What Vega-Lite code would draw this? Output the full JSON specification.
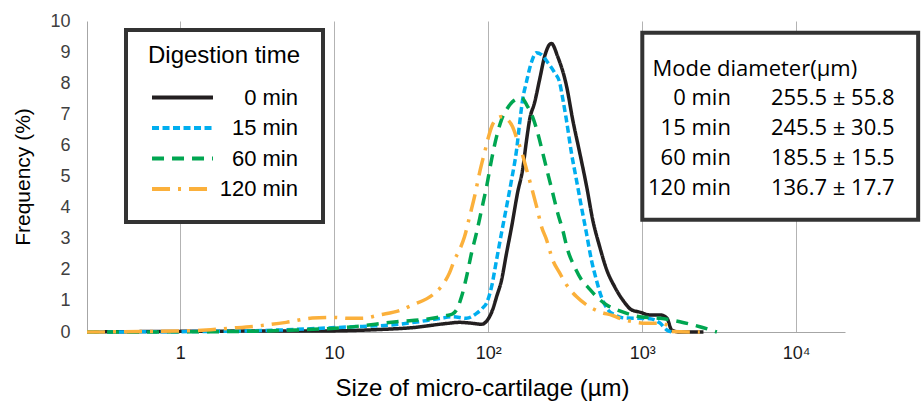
{
  "$schema": "https://vega.github.io/schema/vega-lite/v6.json",
  "autosize": {"type": "none"},
  "width": 758,
  "height": 311,
  "padding": {"left": 87, "top": 21, "right": 77, "bottom": 73},
  "background": "white",
  "config": {
    "view": {"stroke": null},
    "font": "Liberation Sans",
    "legend": {
      "orient": "none",
      "legendX": 39,
      "legendY": 9,
      "titleFontSize": 24,
      "titleFontWeight": "normal",
      "titleColor": "black",
      "titleFont": "Liberation Sans",
      "titlePadding": 9,
      "titleAnchor": "middle",
      "titleAlign": "center",
      "titleBaseline": "line-top",
      "titleLineHeight": 8,
      "labelFontSize": 22,
      "labelColor": "black",
      "labelFont": "Liberation Sans",
      "labelAlign": "right",
      "labelOffset": 103,
      "symbolType": "M-3,0H3",
      "symbolSize": 413,
      "symbolStrokeWidth": 4,
      "symbolOffset": 21,
      "rowPadding": 6.5,
      "padding": 22,
      "strokeColor": "#333333",
      "strokeWidth": 4,
      "fillColor": "white"
    }
  },
  "datasets": {
    "curves": [
      {"time": "0 min", "size": 0.2485, "freq": 0},
      {"time": "0 min", "size": 0.985, "freq": 0.02},
      {"time": "0 min", "size": 2.81, "freq": 0.03},
      {"time": "0 min", "size": 7.217, "freq": 0.03},
      {"time": "0 min", "size": 19.67, "freq": 0.08},
      {"time": "0 min", "size": 32.25, "freq": 0.14},
      {"time": "0 min", "size": 52.84, "freq": 0.27},
      {"time": "0 min", "size": 65.16, "freq": 0.31},
      {"time": "0 min", "size": 79.17, "freq": 0.28},
      {"time": "0 min", "size": 90.6, "freq": 0.25},
      {"time": "0 min", "size": 99.11, "freq": 0.39},
      {"time": "0 min", "size": 106.8, "freq": 0.71},
      {"time": "0 min", "size": 113.4, "freq": 1.13},
      {"time": "0 min", "size": 122.2, "freq": 1.67},
      {"time": "0 min", "size": 131.7, "freq": 2.54},
      {"time": "0 min", "size": 142.0, "freq": 3.38},
      {"time": "0 min", "size": 155.3, "freq": 4.48},
      {"time": "0 min", "size": 167.4, "freq": 5.22},
      {"time": "0 min", "size": 177.7, "freq": 6.18},
      {"time": "0 min", "size": 185.9, "freq": 6.83},
      {"time": "0 min", "size": 200.3, "freq": 7.38},
      {"time": "0 min", "size": 215.9, "freq": 8.12},
      {"time": "0 min", "size": 232.6, "freq": 8.86},
      {"time": "0 min", "size": 257.2, "freq": 9.28},
      {"time": "0 min", "size": 282.6, "freq": 8.86},
      {"time": "0 min", "size": 323.4, "freq": 7.89},
      {"time": "0 min", "size": 353.9, "freq": 6.83},
      {"time": "0 min", "size": 392.9, "freq": 5.77},
      {"time": "0 min", "size": 436.3, "freq": 4.67},
      {"time": "0 min", "size": 477.3, "freq": 3.61},
      {"time": "0 min", "size": 530.1, "freq": 2.74},
      {"time": "0 min", "size": 588.7, "freq": 2.0},
      {"time": "0 min", "size": 663.5, "freq": 1.45},
      {"time": "0 min", "size": 747.9, "freq": 1.03},
      {"time": "0 min", "size": 855.8, "freq": 0.71},
      {"time": "0 min", "size": 964.7, "freq": 0.64},
      {"time": "0 min", "size": 1121, "freq": 0.55},
      {"time": "0 min", "size": 1302, "freq": 0.55},
      {"time": "0 min", "size": 1445, "freq": 0.45},
      {"time": "0 min", "size": 1558, "freq": 0.06},
      {"time": "0 min", "size": 1756, "freq": 0},
      {"time": "0 min", "size": 2500, "freq": 0},

      {"time": "15 min", "size": 0.2485, "freq": 0},
      {"time": "15 min", "size": 1.329, "freq": 0.016},
      {"time": "15 min", "size": 4.402, "freq": 0.064},
      {"time": "15 min", "size": 12.0, "freq": 0.16},
      {"time": "15 min", "size": 25.37, "freq": 0.24},
      {"time": "15 min", "size": 48.31, "freq": 0.43},
      {"time": "15 min", "size": 58.67, "freq": 0.49},
      {"time": "15 min", "size": 72.36, "freq": 0.44},
      {"time": "15 min", "size": 84.05, "freq": 0.6},
      {"time": "15 min", "size": 91.97, "freq": 0.77},
      {"time": "15 min", "size": 97.63, "freq": 0.93},
      {"time": "15 min", "size": 105.2, "freq": 1.45},
      {"time": "15 min", "size": 113.4, "freq": 2.32},
      {"time": "15 min", "size": 122.2, "freq": 3.19},
      {"time": "15 min", "size": 131.7, "freq": 4.03},
      {"time": "15 min", "size": 142.0, "freq": 4.9},
      {"time": "15 min", "size": 153.0, "freq": 5.86},
      {"time": "15 min", "size": 160.0, "freq": 6.7},
      {"time": "15 min", "size": 167.4, "freq": 7.47},
      {"time": "15 min", "size": 176.9, "freq": 8.02},
      {"time": "15 min", "size": 190.7, "freq": 8.66},
      {"time": "15 min", "size": 205.5, "freq": 8.98},
      {"time": "15 min", "size": 221.4, "freq": 8.92},
      {"time": "15 min", "size": 244.4, "freq": 8.66},
      {"time": "15 min", "size": 270.2, "freq": 8.34},
      {"time": "15 min", "size": 291.2, "freq": 8.02},
      {"time": "15 min", "size": 305.9, "freq": 7.47},
      {"time": "15 min", "size": 321.9, "freq": 6.83},
      {"time": "15 min", "size": 347.0, "freq": 5.77},
      {"time": "15 min", "size": 374.0, "freq": 4.9},
      {"time": "15 min", "size": 403.0, "freq": 4.03},
      {"time": "15 min", "size": 434.3, "freq": 3.19},
      {"time": "15 min", "size": 468.1, "freq": 2.32},
      {"time": "15 min", "size": 504.6, "freq": 1.67},
      {"time": "15 min", "size": 543.8, "freq": 1.13},
      {"time": "15 min", "size": 600.3, "freq": 0.71},
      {"time": "15 min", "size": 663.5, "freq": 0.55},
      {"time": "15 min", "size": 770.7, "freq": 0.45},
      {"time": "15 min", "size": 1121, "freq": 0.43},
      {"time": "15 min", "size": 1302, "freq": 0.29},
      {"time": "15 min", "size": 1445, "freq": 0.064},
      {"time": "15 min", "size": 1558, "freq": 0},

      {"time": "60 min", "size": 0.2485, "freq": 0},
      {"time": "60 min", "size": 1.615, "freq": 0.01},
      {"time": "60 min", "size": 5.679, "freq": 0.064},
      {"time": "60 min", "size": 12.0, "freq": 0.15},
      {"time": "60 min", "size": 25.37, "freq": 0.33},
      {"time": "60 min", "size": 43.5, "freq": 0.44},
      {"time": "60 min", "size": 53.63, "freq": 0.53},
      {"time": "60 min", "size": 58.67, "freq": 0.58},
      {"time": "60 min", "size": 62.28, "freq": 0.71},
      {"time": "60 min", "size": 67.14, "freq": 1.13},
      {"time": "60 min", "size": 72.36, "freq": 1.77},
      {"time": "60 min", "size": 78.0, "freq": 2.54},
      {"time": "60 min", "size": 84.05, "freq": 3.19},
      {"time": "60 min", "size": 90.6, "freq": 3.93},
      {"time": "60 min", "size": 97.63, "freq": 4.67},
      {"time": "60 min", "size": 105.2, "freq": 5.54},
      {"time": "60 min", "size": 113.4, "freq": 6.28},
      {"time": "60 min", "size": 122.2, "freq": 6.83},
      {"time": "60 min", "size": 131.7, "freq": 7.15},
      {"time": "60 min", "size": 144.1, "freq": 7.41},
      {"time": "60 min", "size": 164.2, "freq": 7.53},
      {"time": "60 min", "size": 180.4, "freq": 7.25},
      {"time": "60 min", "size": 194.4, "freq": 6.92},
      {"time": "60 min", "size": 209.5, "freq": 6.41},
      {"time": "60 min", "size": 225.8, "freq": 5.77},
      {"time": "60 min", "size": 243.3, "freq": 5.12},
      {"time": "60 min", "size": 262.3, "freq": 4.48},
      {"time": "60 min", "size": 282.6, "freq": 3.83},
      {"time": "60 min", "size": 304.5, "freq": 3.29},
      {"time": "60 min", "size": 328.3, "freq": 2.64},
      {"time": "60 min", "size": 364.6, "freq": 2.09},
      {"time": "60 min", "size": 404.9, "freq": 1.67},
      {"time": "60 min", "size": 442.9, "freq": 1.45},
      {"time": "60 min", "size": 506.9, "freq": 1.13},
      {"time": "60 min", "size": 588.7, "freq": 0.87},
      {"time": "60 min", "size": 715.2, "freq": 0.68},
      {"time": "60 min", "size": 964.7, "freq": 0.49},
      {"time": "60 min", "size": 1302, "freq": 0.44},
      {"time": "60 min", "size": 1756, "freq": 0.33},
      {"time": "60 min", "size": 2368, "freq": 0.17},
      {"time": "60 min", "size": 3055, "freq": 0},

      {"time": "120 min", "size": 0.2485, "freq": 0},
      {"time": "120 min", "size": 0.985, "freq": 0.032},
      {"time": "120 min", "size": 1.476, "freq": 0.064},
      {"time": "120 min", "size": 2.083, "freq": 0.12},
      {"time": "120 min", "size": 3.264, "freq": 0.2},
      {"time": "120 min", "size": 4.889, "freq": 0.31},
      {"time": "120 min", "size": 7.217, "freq": 0.45},
      {"time": "120 min", "size": 9.734, "freq": 0.47},
      {"time": "120 min", "size": 12.55, "freq": 0.44},
      {"time": "120 min", "size": 15.26, "freq": 0.44},
      {"time": "120 min", "size": 19.67, "freq": 0.55},
      {"time": "120 min", "size": 26.54, "freq": 0.69},
      {"time": "120 min", "size": 32.25, "freq": 0.87},
      {"time": "120 min", "size": 43.5, "freq": 1.19},
      {"time": "120 min", "size": 50.52, "freq": 1.51},
      {"time": "120 min", "size": 56.1, "freq": 1.9},
      {"time": "120 min", "size": 60.45, "freq": 2.32},
      {"time": "120 min", "size": 65.16, "freq": 2.64},
      {"time": "120 min", "size": 70.23, "freq": 3.06},
      {"time": "120 min", "size": 75.69, "freq": 3.7},
      {"time": "120 min", "size": 81.57, "freq": 4.35},
      {"time": "120 min", "size": 87.94, "freq": 5.12},
      {"time": "120 min", "size": 94.76, "freq": 5.77},
      {"time": "120 min", "size": 100.6, "freq": 6.28},
      {"time": "120 min", "size": 106.8, "freq": 6.67},
      {"time": "120 min", "size": 115.1, "freq": 6.88},
      {"time": "120 min", "size": 124.6, "freq": 6.93},
      {"time": "120 min", "size": 133.7, "freq": 6.83},
      {"time": "120 min", "size": 144.1, "freq": 6.6},
      {"time": "120 min", "size": 153.0, "freq": 6.25},
      {"time": "120 min", "size": 164.9, "freq": 5.8},
      {"time": "120 min", "size": 177.7, "freq": 5.22},
      {"time": "120 min", "size": 191.5, "freq": 4.64},
      {"time": "120 min", "size": 206.4, "freq": 4.03},
      {"time": "120 min", "size": 222.4, "freq": 3.38},
      {"time": "120 min", "size": 239.7, "freq": 2.96},
      {"time": "120 min", "size": 262.3, "freq": 2.32},
      {"time": "120 min", "size": 291.2, "freq": 1.9},
      {"time": "120 min", "size": 323.4, "freq": 1.51},
      {"time": "120 min", "size": 375.7, "freq": 1.13},
      {"time": "120 min", "size": 436.3, "freq": 0.87},
      {"time": "120 min", "size": 530.1, "freq": 0.65},
      {"time": "120 min", "size": 643.9, "freq": 0.53},
      {"time": "120 min", "size": 715.2, "freq": 0.44},
      {"time": "120 min", "size": 868.7, "freq": 0.33},
      {"time": "120 min", "size": 1071, "freq": 0.28},
      {"time": "120 min", "size": 1302, "freq": 0.28},
      {"time": "120 min", "size": 1512, "freq": 0.17},
      {"time": "120 min", "size": 1558, "freq": 0.016},
      {"time": "120 min", "size": 2368, "freq": 0}
    ],
    "modes": [
      {"time": "0 min", "mode": "255.5 ± 55.8"},
      {"time": "15 min", "mode": "245.5 ± 30.5"},
      {"time": "60 min", "mode": "185.5 ± 15.5"},
      {"time": "120 min", "mode": "136.7 ± 17.7"}
    ]
  },
  "resolve": {"scale": {"y": "independent"}},
  "layer": [
    {
      "data": {"name": "curves"},
      "mark": {"type": "line", "interpolate": "monotone", "strokeWidth": 3.5, "strokeCap": "butt"},
      "encoding": {
        "x": {
          "field": "size", "type": "quantitative",
          "scale": {"type": "log", "domain": [0.2485, 20750], "nice": false},
          "axis": {
            "title": "Size of micro-cartilage (µm)",
            "values": [1, 10, 100, 1000, 10000],
            "labelExpr": "datum.value == 1 ? '1' : datum.value == 10 ? '10' : datum.value == 100 ? '10²' : datum.value == 1000 ? '10³' : '10⁴'",
            "grid": true, "gridColor": "#b3b3b3", "gridWidth": 1,
            "ticks": false, "tickSize": 0,
            "labelPadding": 12, "labelFontSize": 18, "labelColor": "#1a1a1a", "labelFlush": false,
            "domainColor": "#a6a6a6", "domainWidth": 1,
            "titleFontSize": 24, "titleFontWeight": "normal", "titleColor": "black",
            "titlePadding": 14, "titleX": 395
          }
        },
        "y": {
          "field": "freq", "type": "quantitative",
          "scale": {"domain": [0, 10], "nice": false},
          "axis": {
            "title": "Frequency (%)",
            "values": [0, 1, 2, 3, 4, 5, 6, 7, 8, 9, 10],
            "grid": false, "ticks": false, "tickSize": 0,
            "labelPadding": 17, "labelFontSize": 18, "labelColor": "#404040",
            "domainColor": "#a6a6a6", "domainWidth": 1,
            "titleFontSize": 21, "titleFontWeight": "normal", "titleColor": "black",
            "titlePadding": 16
          }
        },
        "color": {
          "field": "time", "type": "nominal", "title": "Digestion time",
          "scale": {"domain": ["0 min", "15 min", "60 min", "120 min"], "range": ["#231f20", "#00aeef", "#00a651", "#fbb03b"]}
        },
        "strokeDash": {
          "field": "time", "type": "nominal", "title": "Digestion time",
          "scale": {"domain": ["0 min", "15 min", "60 min", "120 min"], "range": [[1, 0], [7, 3.5], [12, 8], [18, 8, 3, 8]]}
        }
      }
    },
    {
      "data": {"values": [{"box": "mode diameter table"}]},
      "mark": {"type": "rect", "fill": "white", "stroke": "#333333", "strokeWidth": 4},
      "encoding": {
        "x": {"datum": 1002, "type": "quantitative", "scale": {"type": "log", "domain": [0.2485, 20750], "nice": false}},
        "x2": {"datum": 61944},
        "y": {"datum": 9.62, "type": "quantitative", "scale": {"domain": [0, 10], "nice": false}, "axis": null},
        "y2": {"datum": 3.607}
      }
    },
    {
      "data": {"values": [{"label": "Mode diameter(µm)"}]},
      "mark": {"type": "text", "align": "left", "baseline": "alphabetic", "font": "Open Sans", "fontSize": 22, "color": "black"},
      "encoding": {
        "x": {"datum": 1167, "type": "quantitative", "scale": {"type": "log", "domain": [0.2485, 20750], "nice": false}},
        "y": {"datum": 8.222, "type": "quantitative", "scale": {"domain": [0, 10], "nice": false}, "axis": null},
        "text": {"field": "label"}
      }
    },
    {
      "data": {"name": "modes"},
      "mark": {"type": "text", "align": "right", "baseline": "alphabetic", "font": "Open Sans", "fontSize": 22, "color": "black"},
      "encoding": {
        "x": {"datum": 3768, "type": "quantitative", "scale": {"type": "log", "domain": [0.2485, 20750], "nice": false}},
        "y": {"field": "time", "type": "nominal", "scale": {"type": "point", "domain": ["0 min", "15 min", "60 min", "120 min"], "range": [84, 174], "padding": 0}, "axis": null},
        "text": {"field": "time"}
      }
    },
    {
      "data": {"name": "modes"},
      "mark": {"type": "text", "align": "left", "baseline": "alphabetic", "font": "Open Sans", "fontSize": 22, "color": "black"},
      "encoding": {
        "x": {"datum": 6858, "type": "quantitative", "scale": {"type": "log", "domain": [0.2485, 20750], "nice": false}},
        "y": {"field": "time", "type": "nominal", "scale": {"type": "point", "domain": ["0 min", "15 min", "60 min", "120 min"], "range": [84, 174], "padding": 0}, "axis": null},
        "text": {"field": "mode"}
      }
    }
  ]
}
